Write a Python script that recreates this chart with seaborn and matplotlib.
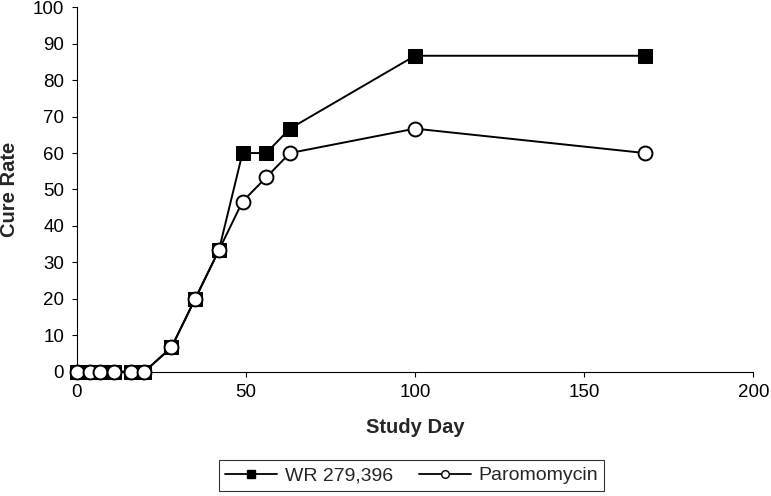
import matplotlib
matplotlib.use("Agg")
import matplotlib.pyplot as plt
import seaborn as sns
import pandas as pd
from matplotlib.lines import Line2D

days = [0, 4, 7, 11, 16, 20, 28, 35, 42, 49, 56, 63, 100, 168]
wr_279396 = [0, 0, 0, 0, 0, 0, 6.7, 20, 33.3, 60, 60, 66.7, 86.7, 86.7]
paromomycin = [0, 0, 0, 0, 0, 0, 6.7, 20, 33.3, 46.7, 53.3, 60, 66.7, 60]
series_names = ["WR 279,396", "Paromomycin"]
x_ticks = [0, 50, 100, 150, 200]
y_ticks = [0, 10, 20, 30, 40, 50, 60, 70, 80, 90, 100]

sns.set_style("white")
plt.rcParams['font.family'] = ['Liberation Sans', 'DejaVu Sans']

fig = plt.figure(figsize=(7.71, 4.96), dpi=100)
ax = fig.add_axes([0.0996, 0.2506, 0.8774, 0.7347])

df_wr = pd.DataFrame({"day": days, "rate": wr_279396})
df_pa = pd.DataFrame({"day": days, "rate": paromomycin})

sns.lineplot(data=df_wr, x="day", y="rate", ax=ax, color="black", lw=1.4,
             marker="s", markersize=10.5, markerfacecolor="black",
             markeredgecolor="black", clip_on=False, zorder=3)
sns.lineplot(data=df_pa, x="day", y="rate", ax=ax, color="black", lw=1.4,
             marker="o", markersize=10, markerfacecolor="white",
             markeredgecolor="black", markeredgewidth=1.4, clip_on=False, zorder=4)

ax.set_xlim(0, 200)
ax.set_ylim(0, 100)
ax.set_xticks(x_ticks)
ax.set_yticks(y_ticks)
ax.tick_params(axis="both", direction="out", length=3.6, width=0.8, color="black",
               labelsize=13.5, pad=5.5, bottom=True, left=True, labelcolor="black")
for s in ["top", "right"]:
    ax.spines[s].set_visible(False)
for s in ["left", "bottom"]:
    ax.spines[s].set_color("black")
    ax.spines[s].set_linewidth(0.8)

ax.set_xlabel("Study Day", fontsize=14.5, fontweight="bold")
ax.set_ylabel("Cure Rate", fontsize=14.5, fontweight="bold")
ax.xaxis.set_label_coords(0.5, -0.127)
ax.yaxis.set_label_coords(-0.0847, 0.5)

handles = [
    Line2D([], [], color="black", lw=1.3, marker="s", markersize=6,
           markerfacecolor="black", markeredgecolor="black"),
    Line2D([], [], color="black", lw=1.3, marker="o", markersize=5.5,
           markerfacecolor="white", markeredgecolor="black"),
]
leg = fig.legend(handles, series_names, loc="center", bbox_to_anchor=(0.534, 0.0413),
                 ncol=2, fontsize=14, frameon=True, fancybox=False, edgecolor="black",
                 handlelength=2.66, columnspacing=1.37, handletextpad=0.38,
                 borderpad=0.33, borderaxespad=0)
leg.get_frame().set_linewidth(0.8)

fig.savefig("out.png", dpi=100)
